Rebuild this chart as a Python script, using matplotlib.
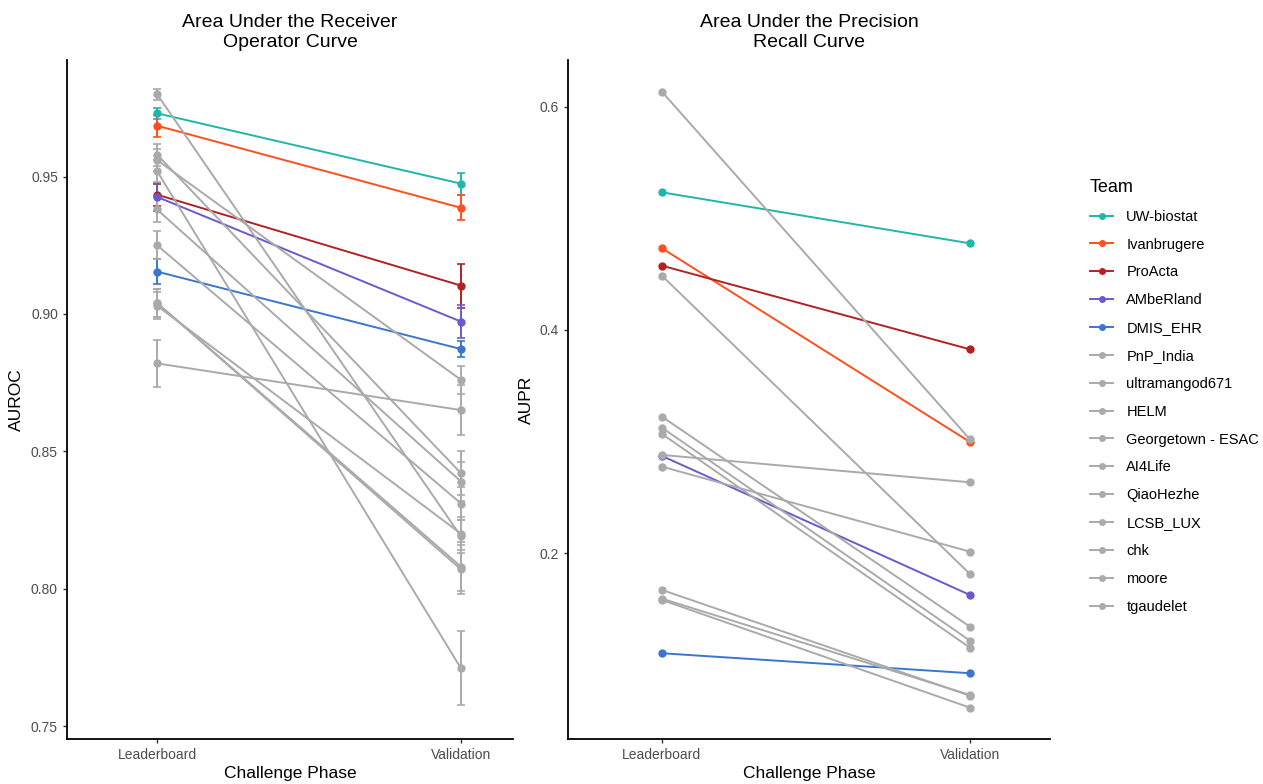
import numpy as np
import matplotlib
matplotlib.use('Agg')
import matplotlib.pyplot as plt
from matplotlib.lines import Line2D

plt.rcParams['font.family'] = ['Liberation Sans', 'DejaVu Sans']

teams = ['UW-biostat', 'Ivanbrugere', 'ProActa', 'AMbeRland', 'DMIS_EHR',
         'PnP_India', 'ultramangod671', 'HELM', 'Georgetown - ESAC', 'AI4Life',
         'QiaoHezhe', 'LCSB_LUX', 'chk', 'moore', 'tgaudelet']
phases = ['Leaderboard', 'Validation']

gray = '#aaaaaa'
colors = ['#22b5aa', '#ff4f1f', '#b22222', '#6a5acd', '#3a76d0'] + [gray] * 10

# AUROC (leaderboard, validation) and error half-widths
auroc_lb = [0.973, 0.9685, 0.9434, 0.9426, 0.9154,
            0.956, 0.882, 0.958, 0.938, 0.925,
            0.903, 0.980, 0.904, 0.904, 0.952]
auroc_val = [0.9474, 0.9386, 0.9103, 0.8972, 0.8872,
             0.876, 0.865, 0.842, 0.839, 0.831,
             0.820, 0.819, 0.808, 0.807, 0.771]
auroc_lb_err = [0.002, 0.004, 0.004, 0.005, 0.0045,
                0.004, 0.0085, 0.004, 0.0045, 0.005,
                0.005, 0.002, 0.005, 0.005, 0.004]
auroc_val_err = [0.004, 0.0045, 0.008, 0.006, 0.003,
                 0.005, 0.009, 0.008, 0.007, 0.006,
                 0.006, 0.006, 0.009, 0.009, 0.0135]

# AUPR (leaderboard, validation)
aupr_lb = [0.5233, 0.4732, 0.4576, 0.2872, 0.1105,
           0.6134, 0.4486, 0.3224, 0.3125, 0.3069,
           0.2881, 0.2776, 0.1672, 0.1594, 0.1582]
aupr_val = [0.4776, 0.2997, 0.3827, 0.1627, 0.0926,
            0.3021, 0.1815, 0.1343, 0.1218, 0.1155,
            0.2636, 0.2015, 0.0725, 0.0732, 0.0618]

fig = plt.figure(figsize=(12.63, 7.84), dpi=100)
ax1 = fig.add_axes([67/1263, 1-739/784, 446/1263, 679/784])
ax2 = fig.add_axes([568/1263, 1-739/784, 482/1263, 679/784])

x = [0, 1]
for i, t in enumerate(teams):
    ax1.errorbar(x, [auroc_lb[i], auroc_val[i]], yerr=[auroc_lb_err[i], auroc_val_err[i]],
                 color=colors[i], lw=1.4, marker='o', ms=5, capsize=3, elinewidth=1.4,
                 capthick=1.2)
    ax2.plot(x, [aupr_lb[i], aupr_val[i]], color=colors[i], lw=1.4, marker='o', ms=5)

ax1.set_xlim(-0.296, 1.171)
ax1.set_ylim(0.7453, 0.9924)
ax1.set_yticks([0.75, 0.80, 0.85, 0.90, 0.95])
ax1.set_yticklabels(['0.75', '0.80', '0.85', '0.90', '0.95'])
ax1.set_ylabel('AUROC', fontsize=12.5, labelpad=5)
ax1.set_title('Area Under the Receiver\nOperator Curve', fontsize=14, linespacing=1.3, pad=9)

ax2.set_xlim(-0.305, 1.26)
ax2.set_ylim(0.0337, 0.6418)
ax2.set_yticks([0.2, 0.4, 0.6])
ax2.set_yticklabels(['0.2', '0.4', '0.6'])
ax2.set_ylabel('AUPR', fontsize=12.5, labelpad=4)
ax2.set_title('Area Under the Precision\nRecall Curve', fontsize=14, linespacing=1.3, pad=9)

for ax in (ax1, ax2):
    ax.set_xticks(x)
    ax.set_xticklabels(phases)
    ax.set_xlabel('Challenge Phase', fontsize=12.5, labelpad=3)
    ax.spines['top'].set_visible(False)
    ax.spines['right'].set_visible(False)
    ax.spines['left'].set_linewidth(1.3)
    ax.spines['bottom'].set_linewidth(1.3)
    ax.tick_params(length=3, width=1, color='#333333', labelcolor='#4d4d4d', labelsize=10)

handles = [Line2D([0], [0], color=c, lw=1.4, marker='o', ms=4) for c in colors]
leg = fig.legend(handles, teams, title='Team', loc='upper left',
                 bbox_to_anchor=(1084/1263, 1-173/784), frameon=False,
                 fontsize=10.5, title_fontsize=13, handlelength=1.6,
                 labelspacing=0.95, handletextpad=0.9, alignment='left',
                 borderaxespad=0)

fig.savefig('out.png', dpi=100)
